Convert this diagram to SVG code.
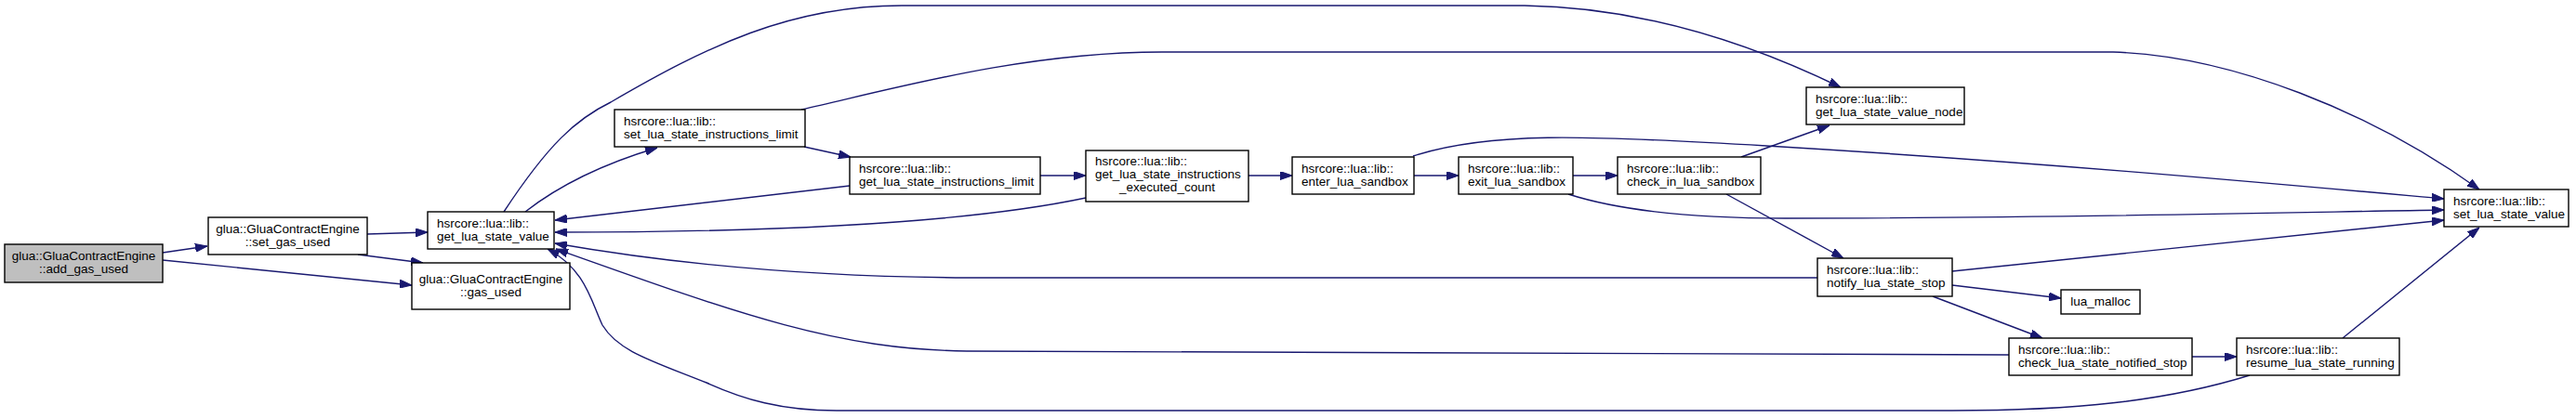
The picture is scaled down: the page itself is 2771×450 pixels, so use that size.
<svg xmlns="http://www.w3.org/2000/svg" width="2771" height="450" viewBox="0 0 2771 450">
<style>
.n rect{fill:#ffffff;stroke:#000000;stroke-width:1.4}
.root rect{fill:#bfbfbf}
.n text{font-family:"Liberation Sans",Arial,sans-serif;font-size:13.5px;fill:#000000}
.c{text-anchor:middle}
#edges path{fill:none;stroke:#191970;stroke-width:1.4;marker-end:url(#ah)}
</style>
<defs>
<marker id="ah" markerUnits="userSpaceOnUse" markerWidth="13" markerHeight="9" refX="13" refY="4.5" orient="auto">
<path d="M0,0 L13,4.5 L0,9 Z" fill="#191970" stroke="#191970" stroke-width="1"/>
</marker>
</defs>
<rect x="0" y="0" width="2771" height="450" fill="#ffffff"/>
<g id="edges">
<path d="M175,272 L223,265"/>
<path d="M175,280 L443,307"/>
<path d="M395,252 L460,250"/>
<path d="M385,274 L455,283"/>
<path d="M565,228 Q620,185 707,159"/>
<path d="M865,158 L915,169"/>
<path d="M914,200 L597,237"/>
<path d="M1168,213 C1050,238 850,250 597,250"/>
<path d="M1119,189 L1168,189"/>
<path d="M1343,189 L1390,189"/>
<path d="M1521,189 L1569,189"/>
<path d="M1692,189 L1740,189"/>
<path d="M1873,169 L1968,135"/>
<path d="M542,228 C590,155 620,128 657,110 C760,50 850,6 970,6 L1640,6 C1780,8 1900,55 1980,94"/>
<path d="M862,118 C960,96 1100,56 1250,56 L2273,56 C2400,60 2550,120 2667,204"/>
<path d="M1520,168 C1600,142 1700,145 1900,157 C2200,175 2450,198 2629,214"/>
<path d="M1687,209 C1740,226 1820,235 1920,235 C2200,235 2450,229 2629,226"/>
<path d="M1857,209 L1983,278"/>
<path d="M2100,292 L2629,237"/>
<path d="M2100,307 L2217,321"/>
<path d="M2079,319 L2197,364"/>
<path d="M2358,384 L2406,384"/>
<path d="M2520,364 L2667,245"/>
<path d="M1955,299 L1040,299 C850,298 700,280 597,262"/>
<path d="M2161,382 L1040,378 C900,376 800,340 598,268"/>
<path d="M2420,404 C2330,432 2230,442 2100,442 L900,442 C840,442 800,430 760,412 C700,388 665,378 648,350 C636,325 630,290 589,268"/>
</g>
<g id="add_gas_used" class="n root"><rect x="5" y="263" width="170" height="41"/><text class="c" x="90" y="280">glua::GluaContractEngine</text><text class="c" x="90" y="294">::add_gas_used</text></g>
<g id="set_gas_used" class="n"><rect x="224" y="234" width="171" height="40"/><text class="c" x="309.5" y="250.5">glua::GluaContractEngine</text><text class="c" x="309.5" y="264.5">::set_gas_used</text></g>
<g id="gas_used" class="n"><rect x="443" y="283" width="170" height="50"/><text class="c" x="528" y="304.5">glua::GluaContractEngine</text><text class="c" x="528" y="318.5">::gas_used</text></g>
<g id="get_lua_state_value" class="n"><rect x="460" y="228" width="136" height="40"/><text x="470" y="244.5">hsrcore::lua::lib::</text><text x="470" y="258.5">get_lua_state_value</text></g>
<g id="set_lua_state_instructions_limit" class="n"><rect x="661" y="118" width="205" height="40"/><text x="671" y="134.5">hsrcore::lua::lib::</text><text x="671" y="148.5">set_lua_state_instructions_limit</text></g>
<g id="get_lua_state_instructions_limit" class="n"><rect x="914" y="169" width="205" height="40"/><text x="924" y="185.5">hsrcore::lua::lib::</text><text x="924" y="199.5">get_lua_state_instructions_limit</text></g>
<g id="get_lua_state_instructions_executed_count" class="n"><rect x="1168" y="162" width="175" height="55"/><text x="1178" y="178">hsrcore::lua::lib::</text><text x="1178" y="192">get_lua_state_instructions</text><text class="c" x="1255.5" y="206">_executed_count</text></g>
<g id="enter_lua_sandbox" class="n"><rect x="1390" y="169" width="131" height="40"/><text x="1400" y="185.5">hsrcore::lua::lib::</text><text x="1400" y="199.5">enter_lua_sandbox</text></g>
<g id="exit_lua_sandbox" class="n"><rect x="1569" y="169" width="123" height="40"/><text x="1579" y="185.5">hsrcore::lua::lib::</text><text x="1579" y="199.5">exit_lua_sandbox</text></g>
<g id="check_in_lua_sandbox" class="n"><rect x="1740" y="169" width="154" height="40"/><text x="1750" y="185.5">hsrcore::lua::lib::</text><text x="1750" y="199.5">check_in_lua_sandbox</text></g>
<g id="get_lua_state_value_node" class="n"><rect x="1943" y="94" width="170" height="40"/><text x="1953" y="110.5">hsrcore::lua::lib::</text><text x="1953" y="124.5">get_lua_state_value_node</text></g>
<g id="notify_lua_state_stop" class="n"><rect x="1955" y="278" width="145" height="41"/><text x="1965" y="295">hsrcore::lua::lib::</text><text x="1965" y="309">notify_lua_state_stop</text></g>
<g id="lua_malloc" class="n"><rect x="2217" y="312" width="85" height="26"/><text class="c" x="2259.5" y="329">lua_malloc</text></g>
<g id="check_lua_state_notified_stop" class="n"><rect x="2161" y="364" width="197" height="40"/><text x="2171" y="380.5">hsrcore::lua::lib::</text><text x="2171" y="394.5">check_lua_state_notified_stop</text></g>
<g id="resume_lua_state_running" class="n"><rect x="2406" y="364" width="175" height="40"/><text x="2416" y="380.5">hsrcore::lua::lib::</text><text x="2416" y="394.5">resume_lua_state_running</text></g>
<g id="set_lua_state_value" class="n"><rect x="2629" y="204" width="134" height="40"/><text x="2639" y="220.5">hsrcore::lua::lib::</text><text x="2639" y="234.5">set_lua_state_value</text></g>
</svg>
